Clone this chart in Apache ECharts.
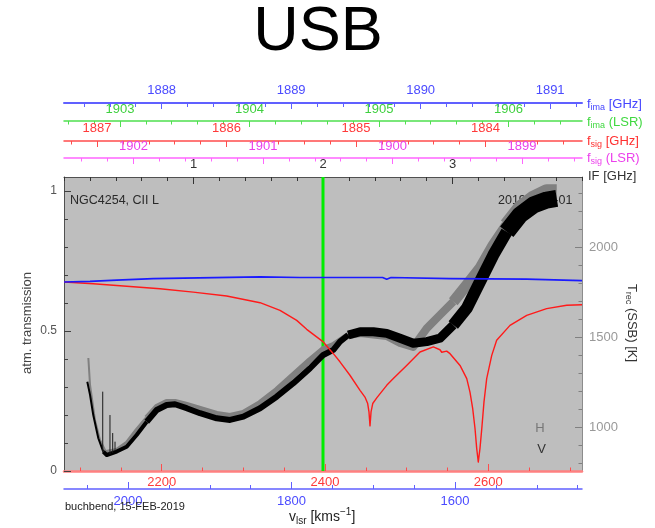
<!DOCTYPE html>
<html>
<head>
<meta charset="utf-8">
<title>USB</title>
<script src="https://cdn.jsdelivr.net/npm/echarts@6.0.0/dist/echarts.min.js"></script>
<style>
html,body{margin:0;padding:0;background:#ffffff;}
#chart{width:655px;height:528px;}
</style>
</head>
<body>
<div id="chart"></div>
<script>
// ===================== DATA =====================
// common abscissa: IF [GHz]
const ifLimits = [0, 4];
const ifMajorTicks = [1, 2, 3];
// left axis: atmospheric transmission
const transLimits = [0, 1.05];
const transMajorTicks = [0, 0.5, 1];
// right axis: Trec (SSB) [K]
const trecLimits = [759, 2393];
const trecMajorTicks = [1000, 1500, 2000];

// top frequency axes (value at IF = 0)
const fImaGHzAtIF0 = 1887.246;  const fImaGHzTicks = [1888, 1889, 1890, 1891];
const fImaLSRAtIF0 = 1902.568;  const fImaLSRTicks = [1903, 1904, 1905, 1906];
const fSigGHzAtIF0 = 1887.255;  const fSigGHzTicks = [1884, 1885, 1886, 1887];
const fSigLSRAtIF0 = 1902.537;  const fSigLSRTicks = [1899, 1900, 1901, 1902];
// bottom velocity axes [km/s]
const vSigLimits = [2080.4, 2714.8]; const vSigTicks = [2200, 2400, 2600];
const vImaLimits = [1444.7, 2078.3]; const vImaTicks = [1600, 1800, 2000];

// line frequency marker (IF)
const lineIF = 2;

// atmospheric transmission, signal band (red)
const sigTransIF = [0.000,0.226,0.484,0.741,0.998,1.256,1.514,1.668,1.797,1.874,2.002,2.080,2.131,2.208,2.286,2.324,2.345,2.355,2.363,2.371,2.384,2.415,2.492,2.543,2.646,2.749,2.852,2.903,2.917,2.955,2.981,3.058,3.110,3.135,3.156,3.174,3.187,3.199,3.212,3.226,3.243,3.264,3.303,3.341,3.444,3.573,3.727,3.882,4.000];
const sigTrans   = [0.675,0.669,0.660,0.651,0.639,0.625,0.601,0.574,0.538,0.506,0.461,0.419,0.390,0.342,0.288,0.264,0.241,0.211,0.161,0.211,0.241,0.261,0.306,0.330,0.377,0.425,0.443,0.433,0.424,0.428,0.419,0.377,0.330,0.282,0.223,0.151,0.080,0.032,0.080,0.151,0.246,0.330,0.413,0.467,0.520,0.556,0.580,0.592,0.594];

// atmospheric transmission, image band (blue)
const imaTransIF = [0.000,0.201,0.407,0.690,1.514,1.822,2.337,2.460,2.492,2.525,2.981,3.573,4.000];
const imaTrans   = [0.675,0.677,0.682,0.687,0.693,0.691,0.691,0.691,0.685,0.691,0.687,0.685,0.680];

// receiver temperature, V polarisation (black)
const trecV_IF = [0.180,0.201,0.226,0.265,0.303,0.330,0.407,0.484,0.561,0.639,0.716,0.793,0.857,0.947,1.050,1.179,1.282,1.385,1.514,1.642,1.771,1.900,2.002,2.080,2.131,2.195,2.286,2.389,2.492,2.595,2.697,2.801,2.903,3.006,3.110,3.212,3.315,3.419,3.521,3.624,3.727,3.805];
const trecV    = [1255,1182,1070,941,867,848,867,894,959,1033,1098,1126,1130,1108,1080,1052,1043,1061,1108,1172,1247,1330,1404,1432,1478,1515,1533,1533,1524,1497,1469,1478,1497,1570,1663,1811,1959,2089,2182,2237,2265,2274];

// receiver temperature, H polarisation (grey)
const trecH_IF = [0.188,0.201,0.239,0.278,0.324,0.407,0.484,0.561,0.639,0.716,0.793,0.857,0.947,1.050,1.179,1.282,1.385,1.514,1.642,1.771,1.900,2.002,2.080,2.195,2.286,2.492,2.595,2.697,2.801,2.903,3.006,3.110,3.212,3.315,3.419,3.521,3.624,3.727,3.805];
const trecH    = [1387,1237,1043,932,865,876,915,987,1054,1115,1143,1143,1126,1104,1076,1065,1082,1137,1209,1293,1376,1437,1459,1515,1526,1509,1471,1448,1552,1626,1700,1793,1886,2015,2126,2219,2275,2311,2311];

// narrow spikes in the V spectrum
const spikeIF   = [0.299, 0.355, 0.376, 0.394];
const spikeLow  = [868, 852, 860, 872];
const spikeHigh = [1200, 1070, 970, 922];

// ===================== HELPERS =====================
const FONT = '"Liberation Sans", Arial, Helvetica, sans-serif';
const plain = v => String(v);

function between(xs, ys, lo, hi) {
  const out = [];
  xs.forEach((x, i) => { if (x >= lo - 1e-9 && x <= hi + 1e-9) out.push([x, ys[i]]); });
  return out;
}
function minorList(lo, hi, step, majors) {
  const out = [];
  const k0 = Math.ceil(lo / step - 1e-9), k1 = Math.floor(hi / step + 1e-9);
  for (let k = k0; k <= k1; k++) {
    const v = +(k * step).toFixed(6);
    if (!majors.some(m => Math.abs(m - v) < 1e-6)) out.push(v);
  }
  return out;
}
function xPair(o) {
  const base = {type:'value', gridIndex:0, position:o.pos, offset:o.offset, min:o.min, max:o.max,
    inverse:!!o.inverse, splitLine:{show:false}, axisPointer:{show:false}};
  return [
    Object.assign({}, base, {
      axisLine:{show:true, onZero:false, lineStyle:{color:o.lineColor, width:o.lineWidth}},
      axisTick:{show:true, inside:true, length:o.majorLen, customValues:o.major, lineStyle:{color:o.tickColor, width:1}},
      axisLabel:{show:true, customValues:o.major, formatter:plain, color:o.labelColor, fontSize:13, fontFamily:FONT, margin:o.margin}
    }),
    Object.assign({}, base, {
      axisLine:{show:false, onZero:false},
      axisTick:{show:true, inside:true, length:o.minorLen, customValues:o.minor, lineStyle:{color:o.tickColor, width:1}},
      axisLabel:{show:false}
    })
  ];
}
function yPair(o) {
  const base = {type:'value', gridIndex:0, position:o.pos, offset:0, min:o.min, max:o.max,
    splitLine:{show:false}, axisPointer:{show:false}};
  return [
    Object.assign({}, base, {
      axisLine:{show:true, onZero:false, lineStyle:{color:o.lineColor, width:1}},
      axisTick:{show:true, inside:true, length:o.majorLen, customValues:o.major, lineStyle:{color:o.tickColor, width:1}},
      axisLabel:{show:true, customValues:o.major, formatter:plain, color:o.labelColor, fontSize:o.fontSize, fontFamily:FONT, margin:7}
    }),
    Object.assign({}, base, {
      axisLine:{show:false, onZero:false},
      axisTick:{show:true, inside:true, length:o.minorLen, customValues:o.minor, lineStyle:{color:o.tickColor, width:1}},
      axisLabel:{show:false}
    })
  ];
}

// ===================== AXES =====================
const BLUE_L = '#6060ff', BLUE_T = '#4b4bff';
const GREEN_L = '#4fe04f', GREEN_T = '#3fd03f';
const RED_L = '#ff4c4c', RED_T = '#ff3a3a';
const MAG_L = '#ff66ff', MAG_T = '#ea40ea';

const xAxes = [].concat(
  xPair({pos:'top', offset:0, min:ifLimits[0], max:ifLimits[1], major:ifMajorTicks,
    minor:minorList(ifLimits[0], ifLimits[1], 0.2, ifMajorTicks),
    lineColor:'#505050', lineWidth:1, tickColor:'#333333', labelColor:'#333333', majorLen:7, minorLen:4, margin:6}),
  xPair({pos:'top', offset:74, min:fImaGHzAtIF0, max:fImaGHzAtIF0 + 4, major:fImaGHzTicks,
    minor:minorList(fImaGHzAtIF0, fImaGHzAtIF0 + 4, 0.2, fImaGHzTicks),
    lineColor:BLUE_L, lineWidth:2, tickColor:BLUE_L, labelColor:BLUE_T, majorLen:6, minorLen:4, margin:6}),
  xPair({pos:'top', offset:56, min:fImaLSRAtIF0, max:fImaLSRAtIF0 + 4, major:fImaLSRTicks,
    minor:minorList(fImaLSRAtIF0, fImaLSRAtIF0 + 4, 0.2, fImaLSRTicks),
    lineColor:GREEN_L, lineWidth:1.5, tickColor:GREEN_L, labelColor:GREEN_T, majorLen:6, minorLen:3.5, margin:5}),
  xPair({pos:'top', offset:36, min:fSigGHzAtIF0 - 4, max:fSigGHzAtIF0, inverse:true, major:fSigGHzTicks,
    minor:minorList(fSigGHzAtIF0 - 4, fSigGHzAtIF0, 0.2, fSigGHzTicks),
    lineColor:RED_L, lineWidth:1.5, tickColor:RED_L, labelColor:RED_T, majorLen:6, minorLen:3.5, margin:6}),
  xPair({pos:'top', offset:19, min:fSigLSRAtIF0 - 4, max:fSigLSRAtIF0, inverse:true, major:fSigLSRTicks,
    minor:minorList(fSigLSRAtIF0 - 4, fSigLSRAtIF0, 0.2, fSigLSRTicks),
    lineColor:MAG_L, lineWidth:1.5, tickColor:MAG_L, labelColor:MAG_T, majorLen:6, minorLen:3.5, margin:5}),
  xPair({pos:'bottom', offset:0, min:vSigLimits[0], max:vSigLimits[1], major:vSigTicks,
    minor:minorList(vSigLimits[0], vSigLimits[1], 50, vSigTicks),
    lineColor:'#ff8080', lineWidth:2.5, tickColor:RED_L, labelColor:RED_T, majorLen:7, minorLen:3.5, margin:5}),
  xPair({pos:'bottom', offset:18, min:vImaLimits[0], max:vImaLimits[1], inverse:true, major:vImaTicks,
    minor:minorList(vImaLimits[0], vImaLimits[1], 50, vImaTicks),
    lineColor:BLUE_L, lineWidth:1.5, tickColor:BLUE_L, labelColor:BLUE_T, majorLen:7, minorLen:4, margin:6})
);

const yAxes = [].concat(
  yPair({pos:'left', min:transLimits[0], max:transLimits[1], major:transMajorTicks,
    minor:minorList(transLimits[0], 1, 0.1, transMajorTicks),
    lineColor:'#505050', tickColor:'#404040', labelColor:'#555555', fontSize:12, majorLen:7, minorLen:4}),
  yPair({pos:'right', min:trecLimits[0], max:trecLimits[1], major:trecMajorTicks,
    minor:minorList(trecLimits[0], trecLimits[1], 100, trecMajorTicks),
    lineColor:'#8c8c8c', tickColor:'#808080', labelColor:'#999999', fontSize:13, majorLen:7, minorLen:3.5})
);
// yAxis indices: 0 left major, 1 left minor, 2 right major, 3 right minor

// ===================== SERIES =====================
const series = [];
function lineSeries(name, data, yIdx, color, width, z) {
  return {type:'line', name, xAxisIndex:0, yAxisIndex:yIdx, data, symbol:'none', showSymbol:false,
    silent:true, animation:false, connectNulls:false, z,
    lineStyle:{color, width, join:'round'}, emphasis:{disabled:true}};
}
series.push(lineSeries('lineMarker', [[lineIF, transLimits[0]], [lineIF, transLimits[1]]], 0, '#00ee00', 3, 2));

const bandSegs = [[0.17,0.303],[0.303,0.639],[0.639,2.195],[2.195,3.006],[3.006,3.419],[3.419,3.81]];
const hWidths = [2, 4, 6, 8, 11, 15];
const vWidths = [2, 4, 6, 9, 12, 17];
bandSegs.forEach((s, i) => {
  const lo = (i === 1) ? 0.324 : s[0];
  const hi = (i === 0) ? 0.324 : s[1];
  series.push(lineSeries('H' + i, between(trecH_IF, trecH, lo, hi), 2, '#808080', hWidths[i], 3));
});
bandSegs.forEach((s, i) => {
  series.push(lineSeries('V' + i, between(trecV_IF, trecV, s[0], s[1]), 2, '#000000', vWidths[i], 4));
});
spikeIF.forEach((x, i) => {
  series.push(lineSeries('spike' + i, [[x, spikeLow[i]], [x, spikeHigh[i]]], 2, '#1a1a1a', 1, 4));
});

series.push(lineSeries('sigTrans', sigTransIF.map((x, i) => [x, sigTrans[i]]), 0, '#ff1a1a', 1.4, 6));
series.push(lineSeries('imaTrans', imaTransIF.map((x, i) => [x, imaTrans[i]]), 0, '#1a1aff', 1.7, 7));

// ===================== TEXT =====================
function richStyles(color, size) {
  return {
    m:{fill:color, fontSize:size, fontFamily:FONT, verticalAlign:'middle', lineHeight:18},
    s:{fill:color, fontSize:Math.round(size * 0.7), fontFamily:FONT, verticalAlign:'middle', lineHeight:18, padding:[8,0,0,0]},
    p:{fill:color, fontSize:Math.round(size * 0.7), fontFamily:FONT, verticalAlign:'middle', lineHeight:18, padding:[0,0,9,0]}
  };
}
function txt(x, y, text, color, size, extra) {
  return Object.assign({type:'text', x, y, z:1, silent:true,
    style:{text, fill:color, font: size + 'px ' + FONT, align:'left', verticalAlign:'middle'}}, extra || {});
}
function rtxt(x, y, text, color, size, extra) {
  return Object.assign({type:'text', x, y, z:1, silent:true,
    style:{text, rich:richStyles(color, size), fill:color, font: size + 'px ' + FONT, align:'left', verticalAlign:'middle'}}, extra || {});
}

const graphics = [
  {type:'text', x:318, y:33, z:1, silent:true, style:{text:'USB', fill:'#000', font:'63px ' + FONT, align:'center', verticalAlign:'middle'}},
  rtxt(587, 104, '{m|f}{s|ima}{m| [GHz]}', '#4545ff', 13),
  rtxt(587, 122, '{m|f}{s|ima}{m| (LSR)}', '#40d840', 13),
  rtxt(587, 141, '{m|f}{s|sig}{m| [GHz]}', '#ff3030', 13),
  rtxt(587, 158, '{m|f}{s|sig}{m| (LSR)}', '#ec40ec', 13),
  txt(588, 176, 'IF [GHz]', '#333333', 13),
  txt(70, 201, 'NGC4254, CII L', '#2a2a2a', 12.5),
  txt(498, 201, '2019-FEB-01', '#2a2a2a', 12.5),
  {type:'text', x:540, y:428, z:1, silent:true, style:{text:'H', fill:'#777777', font:'13px ' + FONT, align:'center', verticalAlign:'middle'}},
  {type:'text', x:541.5, y:449, z:1, silent:true, style:{text:'V', fill:'#333333', font:'13px ' + FONT, align:'center', verticalAlign:'middle'}},
  {type:'text', x:27, y:323, z:1, silent:true, rotation:Math.PI / 2, style:{text:'atm. transmission', fill:'#444444', font:'13px ' + FONT, align:'center', verticalAlign:'middle'}},
  {type:'text', x:632, y:323, z:1, silent:true, rotation:-Math.PI / 2,
    style:{text:'{m|T}{s|rec}{m| (SSB) [K]}', rich:richStyles('#333333', 13), fill:'#333333', font:'13px ' + FONT, align:'center', verticalAlign:'middle'}},
  txt(65, 507, 'buchbend, 15-FEB-2019', '#222222', 11),
  rtxt(289, 517, '{m|v}{s|lsr}{m| [kms}{p|−1}{m|]}', '#222222', 14)
];

// ===================== CHART =====================
const chart = echarts.init(document.getElementById('chart'), null, {renderer:'canvas'});
chart.setOption({
  animation:false,
  backgroundColor:'#ffffff',
  grid:{left:64, top:177, width:518, height:294, show:true, backgroundColor:'#bebebe', borderWidth:0,
        containLabel:false, outerBoundsMode:'none'},
  xAxis:xAxes,
  yAxis:yAxes,
  series:series,
  graphic:graphics
});
</script>
</body>
</html>
